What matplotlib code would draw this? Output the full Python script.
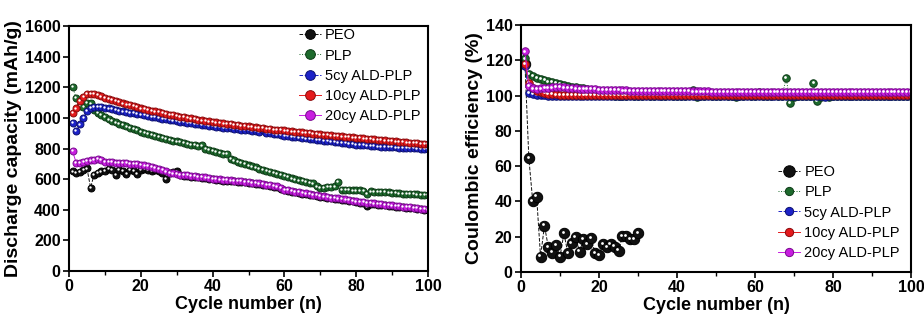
import matplotlib
matplotlib.use("Agg")
import matplotlib.pyplot as plt
import matplotlib.transforms as mtransforms
import numpy as np

plt.rcParams['font.family'] = ['Liberation Sans', 'DejaVu Sans']
plt.rcParams['font.weight'] = 'bold'

cycles = np.arange(1, 101)
peo_cycles = np.arange(1, 31)

# ---- Discharge capacity (mAh/g) ----
cap_peo = [650, 640, 645, 660, 670, 545, 630, 640, 650, 655,
           665, 660, 630, 660, 655, 636, 660, 655, 636, 660,
           665, 660, 655, 660, 650, 640, 601, 640, 645, 650,
           625, 622, 620, 617, 615, 612, 608, 605, 602, 598,
           595, 593, 591, 589, 587, 585, 583, 581, 579, 576,
           573, 570, 567, 563, 559, 555, 551, 547, 535, 527,
           522, 518, 514, 510, 506, 502, 498, 494, 490, 485,
           482, 479, 475, 472, 469, 465, 462, 458, 454, 450,
           447, 444, 422, 438, 436, 433, 431, 428, 426, 423,
           421, 419, 416, 414, 412, 409, 406, 403, 400, 397]
cap_plp = [1204, 1128, 1080, 1070, 1100, 1095, 1050, 1035, 1020, 1005,
           990, 980, 970, 960, 952, 944, 936, 928, 920, 910,
           903, 896, 889, 882, 875, 869, 863, 857, 851, 846,
           841, 836, 831, 826, 821, 816, 820, 800, 790, 782,
           776, 771, 766, 767, 730, 722, 714, 706, 698, 690,
           683, 676, 669, 662, 655, 648, 641, 634, 627, 620,
           612, 605, 598, 592, 586, 580, 576, 572, 552, 545,
           545, 547, 550, 552, 580, 528, 527, 527, 526, 526,
           526, 525, 505, 520, 519, 518, 516, 515, 513, 511,
           509, 507, 506, 504, 503, 501, 500, 499, 497, 496]
cap_5cy = [968, 914, 957, 1001, 1045, 1067, 1073, 1073, 1070, 1067,
           1062, 1058, 1054, 1048, 1042, 1038, 1035, 1030, 1026, 1023,
           1018, 1014, 1009, 1004, 999, 995, 991, 987, 983, 979,
           975, 972, 968, 965, 962, 959, 956, 953, 950, 946,
           943, 940, 937, 935, 932, 929, 927, 924, 922, 920,
           917, 914, 911, 920, 903, 900, 896, 892, 888, 884,
           881, 878, 875, 872, 869, 866, 863, 860, 857, 855,
           852, 849, 846, 843, 840, 837, 834, 831, 829, 826,
           824, 822, 820, 818, 816, 814, 812, 811, 810, 808,
           807, 806, 805, 804, 803, 802, 801, 800, 799, 798]
cap_10cy = [1034, 1062, 1110, 1139, 1154, 1158, 1155, 1148, 1140, 1132,
            1124, 1117, 1109, 1102, 1095, 1088, 1082, 1076, 1069, 1062,
            1057, 1052, 1047, 1042, 1037, 1032, 1027, 1022, 1017, 1012,
            1008, 1004, 1000, 996, 992, 988, 984, 980, 977, 973,
            970, 967, 964, 961, 958, 955, 952, 949, 947, 944,
            941, 938, 935, 932, 930, 927, 924, 922, 920, 918,
            915, 912, 910, 907, 905, 902, 900, 897, 895, 892,
            890, 888, 886, 883, 881, 879, 877, 875, 872, 870,
            868, 866, 864, 861, 859, 857, 855, 853, 850, 848,
            846, 844, 842, 840, 838, 836, 834, 832, 830, 828]
cap_20cy = [782, 706, 705, 712, 717, 722, 728, 732, 725, 715,
            712, 710, 708, 707, 706, 704, 702, 700, 698, 695,
            690, 685, 680, 675, 668, 660, 650, 642, 637, 632,
            630, 627, 625, 622, 620, 617, 614, 611, 608, 603,
            600, 598, 596, 594, 592, 590, 588, 586, 584, 581,
            578, 575, 572, 568, 564, 560, 556, 552, 540, 532,
            527, 523, 519, 515, 511, 507, 503, 499, 495, 490,
            487, 484, 480, 477, 474, 470, 467, 463, 459, 455,
            452, 449, 446, 443, 441, 438, 436, 433, 431, 428,
            426, 424, 421, 419, 417, 414, 411, 408, 405, 402]

# ---- Coulombic efficiency (%) ----
ce_peo = [118, 64.5, 40, 42.7, 8.7, 26.3, 14, 11, 15.3, 8.7,
          22, 10.6, 16.3, 19.7, 11.5, 18.5, 15.9, 19, 10.6, 9.6,
          15.9, 14, 15.9, 14.4, 12.1, 20.4, 20.4, 18.5, 18.5, 22]
ce_plp = [121, 112, 111, 110, 109.5, 109, 108, 107.5, 107, 106.5,
          106, 105.5, 105, 104.7, 104.4, 104, 103.5, 103, 102.5, 102,
          101.5, 101, 100.5, 99.5, 100, 100, 100, 100.2, 100, 100,
          100, 100.2, 100, 100, 100.3, 100, 100, 100.2, 100, 100,
          100, 100, 100.2, 103, 99, 100, 100, 100.2, 100, 100,
          100, 100.2, 100, 100, 99, 100, 100, 100.2, 100, 100,
          102, 100, 100, 100, 100.2, 100, 100, 110, 96, 99,
          100, 100, 100, 100, 107, 97, 99, 100, 99, 100,
          100, 100, 100, 99.5, 100, 100, 100, 99.5, 100, 100,
          100, 100, 100, 100, 99.5, 100, 100, 100, 100, 100]
ce_5cy = [117, 101.5, 100.8, 100.4, 100.2, 100.1, 100, 100, 100, 100,
          100, 99.9, 100, 100, 100, 99.9, 100, 100, 100, 100,
          100, 100, 99.9, 100, 100, 100, 100, 99.9, 100, 100,
          100, 100, 100, 99.9, 100, 100, 100, 100, 100, 100,
          100, 99.9, 100, 100, 100, 100, 100, 99.9, 100, 100,
          100, 100, 100, 100, 100, 99.9, 100, 100, 100, 100,
          100, 100, 99.9, 100, 100, 100, 100, 100, 100, 100,
          100, 100, 100, 100, 100, 100, 99.5, 99.3, 99.6, 100,
          100, 100, 100, 100, 100, 100, 99.8, 100, 100, 100,
          100, 100, 100, 99.8, 100, 100, 100, 100, 100, 100]
ce_10cy = [118, 107, 104, 102.5, 101.8, 101.3, 101, 100.8, 100.6, 100.5,
           100.5, 100.4, 100.4, 100.4, 100.3, 100.3, 100.3, 100.3, 100.3, 100.3,
           100.3, 100.3, 100.3, 100.3, 100.3, 100.3, 100.3, 100.3, 100.3, 100.3,
           100.3, 100.3, 100.3, 100.3, 100.3, 100.3, 100.3, 100.3, 100.3, 100.3,
           100.3, 100.3, 100.3, 100.3, 100.3, 100.3, 100.3, 100.3, 100.3, 100.3,
           100.3, 100.3, 100.3, 100.3, 100.3, 100.3, 100.3, 100.3, 100.3, 100.3,
           100.3, 100.3, 100.3, 100.3, 100.3, 100.3, 100.3, 100.3, 100.3, 100.3,
           100.3, 100.3, 100.3, 100.3, 100.3, 100.3, 100.3, 100.3, 100.3, 100.3,
           100.3, 100.3, 100.3, 100.3, 100.3, 100.3, 100.3, 100.3, 100.3, 100.3,
           100.3, 100.3, 100.3, 100.3, 100.3, 100.3, 100.3, 100.3, 100.3, 100.3]
ce_20cy = [125, 105.5, 104, 103.5, 104, 104.2, 104.4, 104.6, 104.8, 104.8,
           104.6, 104.4, 104.2, 104, 103.9, 103.8, 103.7, 103.6, 103.5, 103.4,
           103.3, 103.2, 103.1, 103, 103, 102.9, 102.9, 102.8, 102.8, 102.7,
           102.7, 102.7, 102.6, 102.6, 102.6, 102.5, 102.5, 102.5, 102.5, 102.4,
           102.4, 102.4, 102.4, 102.3, 102.3, 102.3, 102.3, 102.3, 102.2, 102.2,
           102.2, 102.2, 102.2, 102.2, 102.1, 102.1, 102.1, 102.1, 102.1, 102.1,
           102.1, 102.1, 102.0, 102.0, 102.0, 102.0, 102.0, 102.0, 102.0, 102.0,
           102.0, 102.0, 102.0, 102.0, 102.0, 102.0, 102.0, 102.0, 101.9, 101.9,
           101.9, 101.9, 101.9, 101.9, 101.9, 101.9, 101.9, 101.9, 101.9, 101.9,
           101.9, 101.9, 101.9, 101.9, 101.9, 101.9, 101.9, 101.9, 101.9, 101.9]

labels = ['PEO', 'PLP', '5cy ALD-PLP', '10cy ALD-PLP', '20cy ALD-PLP']
colors = ['#111111', '#1d6a2c', '#1c22c8', '#e41a1c', '#c81ee0']
edge_colors = ['#000000', '#0d3a16', '#0c1070', '#8a0a0c', '#7a0a90']
linestyles = ['--', ':', '--', '-', '-']

fig = plt.figure(figsize=(9.24, 3.26), dpi=100)
ax1 = fig.add_axes([0.0747, 0.1687, 0.3885, 0.7515])
ax2 = fig.add_axes([0.5639, 0.1656, 0.4220, 0.7578])


def draw(ax, x, y, i, ms, hl):
    ax.plot(x, y, linestyle=linestyles[i], linewidth=0.7, color=colors[i],
            marker='o', markersize=ms, markerfacecolor=colors[i],
            markeredgecolor=edge_colors[i], markeredgewidth=0.7, label=labels[i])
    off = mtransforms.ScaledTranslation(-ms * 0.12 / 72, ms * 0.12 / 72, fig.dpi_scale_trans)
    ax.plot(x, y, linestyle='none', marker='o', markersize=hl, color='white',
            markeredgewidth=0, transform=ax.transData + off)


cap_series = [cap_peo, cap_plp, cap_5cy, cap_10cy, cap_20cy]
for i in [0, 1, 2, 3, 4]:
    draw(ax1, cycles, cap_series[i], i, 5.0, 1.7)

ce_series = [ce_peo, ce_plp, ce_5cy, ce_10cy, ce_20cy]
ce_x = [peo_cycles, cycles, cycles, cycles, cycles]
for i in [0, 1, 2, 3, 4]:
    ms = 7.5 if i == 0 else 5.4
    draw(ax2, ce_x[i], ce_series[i], i, ms, 2.0)

for ax in (ax1, ax2):
    ax.set_xlim(0, 100)
    ax.set_xticks([0, 20, 40, 60, 80, 100])
    ax.set_xticks(np.arange(10, 100, 20), minor=True)
    ax.tick_params(axis='both', which='major', direction='out', length=4, width=1.2,
                   labelsize=11.5, pad=2)
    ax.tick_params(axis='x', which='minor', direction='out', length=3, width=1.0)
    for s in ax.spines.values():
        s.set_linewidth(1.5)
    for lab in ax.get_xticklabels() + ax.get_yticklabels():
        lab.set_fontweight('bold')
    ax.set_xlabel('Cycle number (n)', fontsize=13, fontweight='bold', labelpad=1)

ax1.set_ylim(0, 1600)
ax1.set_yticks(np.arange(0, 1601, 200))
ax1.set_ylabel('Discharge capacity (mAh/g)', fontsize=14, fontweight='bold', labelpad=2)
ax2.set_ylim(0, 140)
ax2.set_yticks(np.arange(0, 141, 20))
ax2.set_ylabel('Coulombic efficiency (%)', fontsize=14, fontweight='bold', labelpad=2)

leg_kw = dict(frameon=False, handlelength=1.5, handletextpad=0.3,
              labelspacing=0.42, borderaxespad=0.1,
              prop={'size': 10.5, 'weight': 'normal'})
h1, l1 = ax1.get_legend_handles_labels()
ax1.legend(h1, l1, loc='upper right', bbox_to_anchor=(1.0, 1.02), markerscale=1.4, **leg_kw)
h2, l2 = ax2.get_legend_handles_labels()
ax2.legend(h2, l2, loc='lower right', bbox_to_anchor=(0.99, 0.02), markerscale=1.1, **leg_kw)

fig.savefig('out.png', dpi=100)
